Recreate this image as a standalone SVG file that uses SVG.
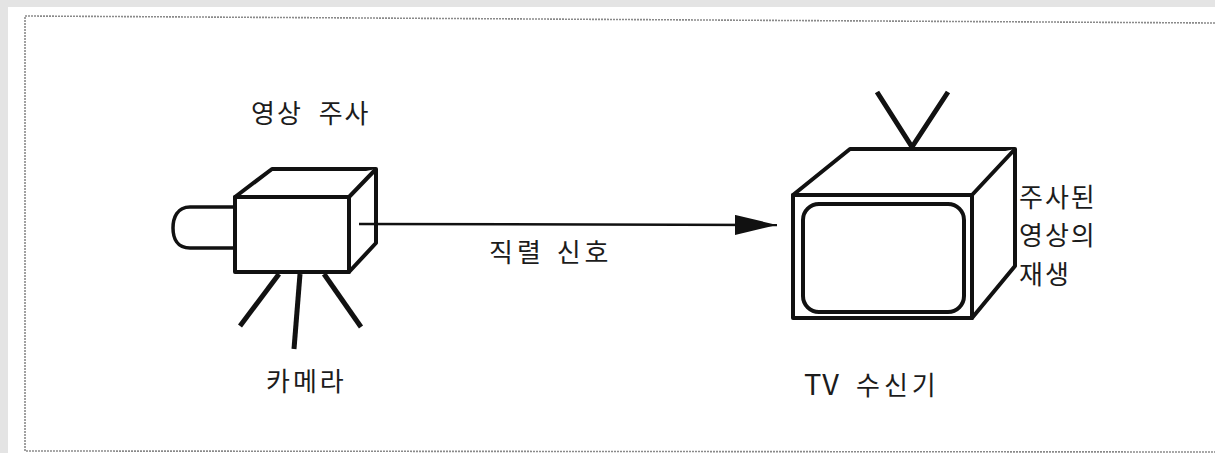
<svg xmlns="http://www.w3.org/2000/svg" width="1215" height="453" viewBox="0 0 1215 453">
  <style>
    .lbl { font-family: "Noto Sans CJK KR", "Noto Sans", sans-serif; font-size: 26px; fill: #1c1c1c; }
    .body { fill: #fff; stroke: #111; stroke-width: 4; stroke-linejoin: round; }
    .leg { fill: none; stroke: #111; stroke-width: 5; stroke-linecap: butt; }
    .frame { fill: none; stroke: #8a8a8a; stroke-width: 1.6; stroke-dasharray: 2 1; }
  </style>
  <defs>
    <marker id="arrow" markerWidth="42" markerHeight="20" refX="42" refY="10" orient="auto" markerUnits="userSpaceOnUse">
      <path d="M0,0 L42,10 L0,20 Z" fill="#111"/>
    </marker>
  </defs>

  <!-- page background and framed panel -->
  <rect x="0" y="0" width="1215" height="453" fill="#e4e4e4"/>
  <rect x="8" y="7" width="1207" height="446" fill="#ffffff"/>
  <path class="frame" d="M1215,23 L25,16 L25,451 L1215,452"/>

  <!-- camera -->
  <g id="camera">
    <path d="M235,207 H190 C177,207 173,218 173,228 C173,238 177,248 190,248 H235" fill="#fff" stroke="#111" stroke-width="3.5"/>
    <path class="body" d="M235,197 L272,169 L376,169 L376,243 L349,272 L349,197 Z"/>
    <path class="body" d="M235,197 L349,197 L376,169"/>
    <rect class="body" x="235" y="197" width="114" height="75"/>
    <line class="leg" x1="279" y1="274" x2="240" y2="326"/>
    <line class="leg" x1="300" y1="274" x2="294" y2="349"/>
    <line class="leg" x1="324" y1="274" x2="361" y2="327"/>
    <text class="lbl" x="251" y="123" letter-spacing="2" word-spacing="8">영상 주사</text>
    <text class="lbl" x="266" y="391" letter-spacing="3">카메라</text>
  </g>

  <!-- TV receiver -->
  <g id="tv">
    <path class="leg" d="M877,92 L912,147 L948,92"/>
    <path class="body" d="M793,195 L850,149 L1015,149 L1015,266 L972,318 L972,195 Z"/>
    <path class="body" d="M793,195 L972,195 L1015,149"/>
    <rect class="body" x="793" y="195" width="179" height="123"/>
    <rect x="803" y="204" width="161" height="108" rx="16" ry="16" fill="#fff" stroke="#111" stroke-width="4"/>
    <text class="lbl" x="804" y="395"><tspan font-size="29" letter-spacing="1">TV</tspan><tspan x="856" letter-spacing="4">수신기</tspan></text>
    <text class="lbl" x="1019" y="207" letter-spacing="2">주사된</text>
    <text class="lbl" x="1019" y="245" letter-spacing="2">영상의</text>
    <text class="lbl" x="1019" y="284" letter-spacing="2">재생</text>
  </g>

  <!-- serial signal connector -->
  <g id="connectors">
    <line x1="359" y1="224" x2="777" y2="225" stroke="#111" stroke-width="2.5" marker-end="url(#arrow)"/>
    <text class="lbl" x="489" y="262" letter-spacing="4" word-spacing="2">직렬 신호</text>
  </g>
</svg>
